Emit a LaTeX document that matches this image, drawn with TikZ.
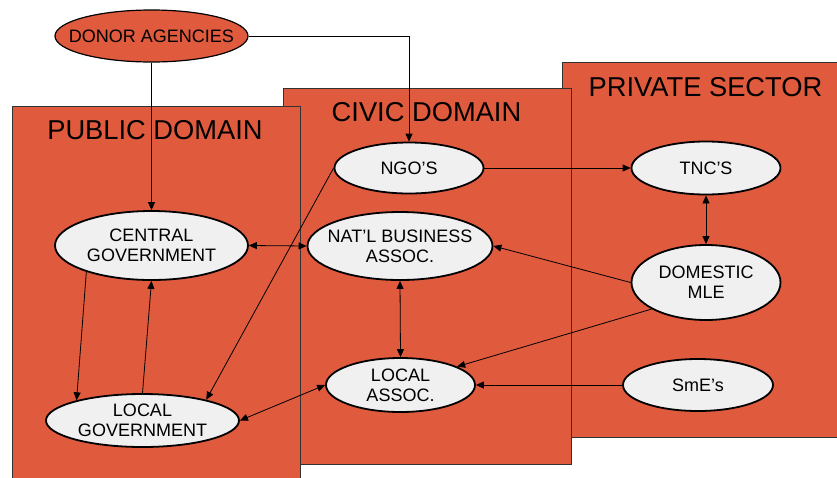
\documentclass[tikz,border=0pt]{standalone}
\usepackage{fontspec}
\defaultfontfeatures{}
\setmainfont{Liberation Sans}
\usetikzlibrary{shapes.geometric,arrows.meta}
\definecolor{dred}{HTML}{E05A3D}
\definecolor{egray}{HTML}{F0F0F0}
\begin{document}
\begin{tikzpicture}[x=1pt,y=-1pt,
 region/.style={draw=black!80,line width=0.8pt,fill=dred},
 title/.style={font=\fontsize{27.3}{30}\selectfont,inner sep=0,anchor=base},
 ent/.style={ellipse,draw=black,line width=1.8pt,fill=egray,inner sep=-20pt,align=center,font=\fontsize{18}{20}\selectfont},
 conn/.style={line width=0.8pt,-{Triangle[length=8pt,width=7pt]}},
 biconn/.style={line width=0.8pt,{Triangle[length=8pt,width=7pt]}-{Triangle[length=8pt,width=7pt]}}]
\clip (0,0) rectangle (837,477);
\fill[white] (0,0) rectangle (837,477);
% regions
\path[region] (562,62) rectangle (845,437);
\path[region] (283,88) rectangle (571,464);
\path[region] (12,106) rectangle (300,485);
\node[title] (tpub) at (155,139) {PUBLIC DOMAIN};
\node[title] (tciv) at (426.5,121) {CIVIC DOMAIN};
\node[title] (tpri) at (705.5,96) {PRIVATE SECTOR};
% entities
\node[ent,fill=dred,line width=1.2pt,minimum width=193,minimum height=52] (donor) at (151.5,36) {DONOR AGENCIES};
\node[ent,minimum width=149,minimum height=51] (ngo) at (409,168) {NGO'S};
\node[ent,minimum width=149,minimum height=53] (tnc) at (706,168) {TNC'S};
\node[ent,minimum width=185,minimum height=68] (nb) at (400,246) {NAT'L BUSINESS\\ASSOC.};
\node[ent,minimum width=193,minimum height=69] (cg) at (151.5,245.5) {CENTRAL\\GOVERNMENT};
\node[ent,minimum width=149,minimum height=75] (mle) at (706,282.5) {DOMESTIC\\MLE};
\node[ent,minimum width=193,minimum height=53] (lg) at (142.5,420.5) {LOCAL\\GOVERNMENT};
\node[ent,minimum width=149,minimum height=54] (la) at (400.5,385) {LOCAL\\ASSOC.};
\node[ent,minimum width=150,minimum height=52] (sme) at (698,385) {SmE's};
% connectors
\draw[conn] (donor.south) -- (cg.north);
\draw[conn] (donor.east) -| (ngo.north);
\draw[conn] (ngo.east) -- (tnc.west);
\draw[biconn] (tnc.south) -- (mle.north);
\draw[conn] (mle.west) -- (nb.east);
\draw[conn] (mle.206) -- (la.18);
\draw[conn] (sme.west) -- (la.east);
\draw[biconn] (nb.south) -- (la.north);
\draw[biconn] (cg.east) -- (nb.west);
\draw[biconn] (lg.east) -- (la.west);
\draw[conn] (ngo.west) -- (lg.18);
\draw[conn] (cg.202) -- (lg.163);
\draw[conn] (lg.north) -- (cg.south);
\end{tikzpicture}
\end{document}
